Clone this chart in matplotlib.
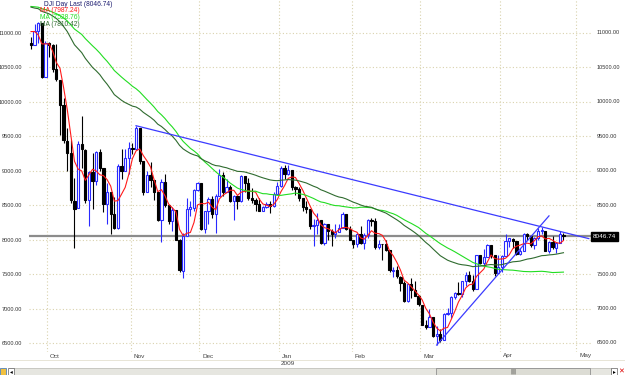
import matplotlib
matplotlib.use("Agg")
import matplotlib.pyplot as plt
from matplotlib.patches import Rectangle
from matplotlib.transforms import blended_transform_factory
import numpy as np
import pandas as pd

# ---------------- data ----------------
# closes before the visible window (2008-06-02 .. 2008-09-23), used only for the moving averages
hist_close = [12503.82, 12402.85, 12390.48, 12604.45, 12209.81, 12280.32, 12289.76, 12083.77,
              12141.58, 12307.35, 12269.08, 12160.30, 12029.06, 12063.09, 11842.69, 11842.36,
              11807.43, 11811.83, 11453.42, 11346.51, 11350.01,
              11382.26, 11215.51, 11288.53, 11231.96, 11384.21, 11147.44, 11229.02, 11100.54,
              11055.19, 10962.54, 11239.28, 11446.66, 11496.57, 11467.34, 11602.50, 11632.38,
              11349.28, 11370.69, 11131.08, 11397.56, 11583.69, 11378.02,
              11326.32, 11284.15, 11615.77, 11656.07, 11431.43, 11734.32, 11782.35, 11642.47,
              11532.96, 11615.93, 11659.90, 11479.39, 11348.55, 11417.43, 11430.21, 11628.06,
              11386.25, 11412.87, 11502.51, 11715.18, 11543.55,
              11516.92, 11532.88, 11188.23, 11220.96, 11510.74, 11230.73, 11268.92, 11433.71,
              11421.99, 10917.51, 11059.02, 10609.66, 11019.69, 11388.44, 11015.69, 10854.17]

start_date = "2008-09-24"
end_date = "2009-04-27"
holidays = ["2008-11-27", "2008-12-25", "2009-01-01", "2009-01-19", "2009-02-16", "2009-04-10"]

opens = [10854, 10825, 11022, 11143, 10365, 10850, 10825, 10483, 10322, 9956,
         9437, 9261, 8568, 8462, 9388, 9301, 8578, 8975, 8852, 9266,
         9034, 8519, 8691, 8375, 8175, 9065, 8991, 9181, 9325, 9320,
         9617, 9139, 8696, 8944, 8869, 8694, 8282, 8831, 8497, 8273,
         8424, 7995, 7552, 8046, 8443, 8465, 8726, 8829, 8149, 8419,
         8592, 8376, 8635, 8934, 8691, 8761, 8565, 8630, 8565, 8924,
         8824, 8605, 8579, 8520, 8419, 8468, 8515, 8484, 8668, 8772,
         9035, 8954, 9015, 8770, 8738, 8599, 8474, 8447, 8200, 8212,
         8279, 7949, 8228, 8123, 8078, 8116, 8175, 8375, 8149, 8000,
         7936, 8078, 7956, 8063, 8280, 8270, 7887, 7933, 7933, 7845,
         7546, 7555, 7461, 7366, 7115, 7349, 7271, 7181, 7056, 6764,
         6726, 6874, 6595, 6625, 6547, 6923, 6930, 7170, 7224, 7217,
         7396, 7486, 7401, 7279, 7776, 7660, 7750, 7924, 7775, 7522,
         7609, 7762, 7978, 8016, 7975, 7790, 7838, 8083, 8056, 7920,
         8029, 8126, 8128, 7842, 7970, 7886, 7957, 8070]

highs = [10935, 11135, 11160, 11143, 10890, 10870, 10840, 10840, 10322, 10050,
         9625, 9448, 8901, 9427, 9794, 9310, 9000, 9265, 9280, 9313,
         9034, 8820, 8691, 8624, 9099, 9315, 9320, 9411, 9410, 9654,
         9626, 9139, 9000, 9130, 8870, 8695, 8876, 8950, 8500, 8480,
         8430, 8010, 8100, 8600, 8560, 8740, 8830, 8829, 8420, 8620,
         8630, 8660, 9026, 8980, 8880, 8800, 8650, 8650, 8945, 8925,
         8890, 8755, 8600, 8600, 8490, 8540, 8560, 8690, 8830, 9065,
         9080, 9088, 9016, 8775, 8770, 8610, 8560, 8450, 8300, 8380,
         8290, 8240, 8230, 8150, 8230, 8220, 8400, 8375, 8200, 8000,
         8100, 8200, 8100, 8300, 8320, 8310, 8000, 7940, 8000, 7845,
         7600, 7620, 7470, 7400, 7360, 7440, 7400, 7200, 7056, 6840,
         6990, 6874, 6740, 6710, 6930, 7010, 7180, 7240, 7390, 7400,
         7530, 7550, 7490, 7780, 7780, 7870, 7935, 7924, 7776, 7770,
         7780, 8075, 8020, 8020, 7975, 7880, 8090, 8100, 8056, 8040,
         8165, 8180, 8128, 7980, 8060, 7960, 8120, 8100]

lows = [10765, 10825, 10860, 10350, 10365, 10654, 10430, 10300, 9525, 9400,
        9000, 8530, 7882, 8462, 9035, 8530, 8197, 8450, 8800, 8990,
        8400, 8225, 8085, 8150, 8150, 8880, 8990, 8960, 9250, 9320,
        9100, 8654, 8696, 8760, 8580, 8270, 7965, 8480, 8220, 8120,
        7990, 7530, 7449, 8046, 8340, 8410, 8700, 8141, 8090, 8230,
        8320, 8090, 8635, 8640, 8690, 8540, 8280, 8450, 8550, 8690,
        8570, 8525, 8420, 8410, 8419, 8460, 8390, 8470, 8660, 8760,
        8880, 8940, 8720, 8650, 8560, 8420, 8380, 8150, 7910, 8080,
        7940, 7920, 7990, 7910, 8030, 8110, 8175, 8140, 7990, 7880,
        7900, 7940, 7860, 8030, 8200, 7860, 7870, 7700, 7840, 7530,
        7460, 7440, 7250, 7100, 7100, 7150, 7180, 7030, 6760, 6700,
        6726, 6580, 6470, 6517, 6547, 6900, 6860, 7140, 7200, 7170,
        7330, 7380, 7250, 7279, 7640, 7620, 7750, 7740, 7473, 7520,
        7530, 7762, 7900, 7880, 7770, 7770, 7838, 7990, 7890, 7860,
        8000, 8080, 7840, 7800, 7860, 7800, 7957, 8000]

closes = [10825.17, 11022.06, 11143.13, 10365.45, 10850.66, 10831.07, 10482.85, 10325.38, 9955.50, 9447.11,
          9258.10, 8579.19, 8451.19, 9387.61, 9310.99, 8577.91, 8979.26, 8852.22, 9265.43, 9033.66,
          8519.21, 8691.25, 8378.95, 8175.77, 9065.12, 8990.96, 9180.69, 9325.01, 9319.83, 9625.28,
          9139.27, 8695.79, 8943.81, 8870.54, 8693.96, 8282.66, 8835.25, 8497.31, 8273.58, 8424.75,
          7997.28, 7552.29, 8046.42, 8443.39, 8479.47, 8726.61, 8829.04, 8149.09, 8419.09, 8591.69,
          8376.24, 8635.42, 8934.18, 8691.33, 8761.42, 8565.09, 8629.68, 8564.53, 8924.14, 8824.34,
          8604.99, 8579.11, 8519.69, 8419.49, 8468.48, 8515.55, 8483.93, 8668.39, 8776.39, 9034.69,
          8952.89, 9015.10, 8769.70, 8742.46, 8599.18, 8473.97, 8448.56, 8200.14, 8212.49, 8281.22,
          7949.09, 8228.10, 8122.80, 8077.56, 8116.03, 8174.73, 8375.45, 8149.01, 8000.86, 7936.83,
          8078.36, 7956.66, 8063.07, 8280.59, 8270.87, 7888.88, 7939.53, 7932.76, 7850.41, 7552.60,
          7555.63, 7465.95, 7365.67, 7114.78, 7350.94, 7270.89, 7182.08, 7062.93, 6763.29, 6726.02,
          6875.84, 6594.44, 6626.94, 6547.05, 6926.49, 6930.40, 7170.06, 7223.98, 7216.97, 7395.70,
          7486.58, 7400.80, 7278.38, 7775.86, 7660.21, 7749.81, 7924.56, 7776.18, 7522.02, 7608.92,
          7761.60, 7978.08, 8017.59, 7975.85, 7789.56, 7837.11, 8083.38, 8057.81, 7920.18, 8029.62,
          8125.43, 8131.33, 7841.73, 7969.56, 7886.57, 7957.06, 8076.29, 8046.74]

# moving averages: (kind, period, colour)
ma_specs = [("sma", 5, "#ff1a1a"), ("sma", 50, "#22dd22"), ("ema", 50, "#2f6b2f")]

# trend lines: (date, value) anchors
trend_down = [("2008-11-04", 9654), ("2009-05-06", 8015)]
trend_up = [("2009-03-06", 6470), ("2009-04-21", 8345)]

month_labels = ["Oct", "Nov", "Dec", "Jan", "Feb", "Mar", "Apr", "May"]
ytick_values = [6500, 7000, 7500, 8000, 8500, 9000, 9500, 10000, 10500, 11000]

# ---------------- derived ----------------
all_days = pd.bdate_range(start_date, "2009-06-30")
all_days = all_days[~all_days.isin(pd.to_datetime(holidays))]
day_index = {d: i for i, d in enumerate(all_days)}
dates = all_days[all_days <= pd.Timestamp(end_date)]
n = len(closes)
x = np.arange(n)

full_close = pd.Series(hist_close + closes)
mas = []
for kind, p, _ in ma_specs:
    if kind == "sma":
        s = full_close.rolling(p).mean()
    else:
        s = full_close.ewm(span=p, adjust=False).mean()
    mas.append(s.values[len(hist_close):])

def pos(datestr):
    return day_index[pd.Timestamp(datestr)]

FONT = "Liberation Sans"
TICK_FS = 4.1

# ---------------- figure ----------------
fig = plt.figure(figsize=(6.25, 3.75), dpi=100)
fig.patch.set_facecolor("white")
ax = fig.add_axes([29 / 625, 23 / 375, 562 / 625, 352 / 375])
ax.set_xlim(-0.55, 154.6)
ax.set_ylim(6369, 11479)
for s in ax.spines.values():
    s.set_visible(False)

grid_col = "#d9d2ad"
for v in ytick_values:
    ax.axhline(v, color=grid_col, lw=0.8, ls=(0, (1, 2)), zorder=0)

month_pos = []
for m_year, m in [(2008, 10), (2008, 11), (2008, 12), (2009, 1), (2009, 2), (2009, 3), (2009, 4), (2009, 5)]:
    first = all_days[(all_days.year == m_year) & (all_days.month == m)][0]
    month_pos.append(day_index[first] - day_index[dates[0]])
for p in month_pos:
    ax.axvline(p - 0.5, color=grid_col, lw=0.8, ls=(0, (1, 2)), zorder=0)

ax.set_yticks(ytick_values)
ax.set_yticklabels([f"{v:.2f}" for v in ytick_values], fontfamily=FONT)
ax.tick_params(axis="y", labelleft=True, labelright=False, left=False, right=False,
               labelsize=TICK_FS, labelcolor="#333333", pad=1.5)
ax.set_xticks([])

last = closes[-1]
ytr = blended_transform_factory(ax.transAxes, ax.transData)
for v in ytick_values:
    if abs(v - last) < 150:
        continue  # hidden behind the last-price box
    ax.text(1 + 6 / 562, v, f"{v:.2f}", transform=ytr, fontsize=TICK_FS, color="#333333",
            ha="left", va="center", fontfamily=FONT)

trans = blended_transform_factory(ax.transData, fig.transFigure)
for p, lab in zip(month_pos, month_labels):
    ax.text(p + 0.3, 1 - 356 / 375, lab, transform=trans, fontsize=4.6, color="#444444",
            ha="left", va="center", fontfamily=FONT)
ax.text(month_pos[3] - 0.2, 1 - 363.5 / 375, "2009", transform=trans, fontsize=4.6,
        color="#444444", ha="left", va="center", fontfamily=FONT)
fig.add_artist(plt.Line2D([0, 1], [1 - 360 / 375] * 2, color="#e4e0d0", lw=0.6))

# last price line
ax.axhline(last, color="#8c8c8c", lw=1.6, zorder=1)

# candles
up_col = "#2a2aff"
w = 0.62
for i in range(n):
    o, h, l, c = opens[i], highs[i], lows[i], closes[i]
    up = c >= o
    col = up_col if up else "black"
    ax.plot([i, i], [l, h], color=col, lw=0.8, zorder=2, solid_capstyle="butt")
    bottom = min(o, c)
    height = max(abs(c - o), 8)
    if up:
        ax.add_patch(Rectangle((i - w / 2, bottom), w, height, facecolor="white",
                               edgecolor=up_col, lw=0.8, zorder=3))
    else:
        ax.add_patch(Rectangle((i - w / 2, bottom), w, height, facecolor="black",
                               edgecolor="black", lw=0.8, zorder=3))

# moving averages
for ma, (_, _, col) in zip(mas, ma_specs):
    ax.plot(x, ma, color=col, lw=0.8, zorder=4)

# trend lines
off = day_index[dates[0]]
for pts in (trend_down, trend_up):
    xs = [pos(d) - off for d, _ in pts]
    ys = [v for _, v in pts]
    ax.plot(xs, ys, color="#3b3bff", lw=0.9, zorder=5)

# last price label
ax.text(1.004, last, f"{last:.2f}", transform=ytr,
        fontsize=4.6, color="white", ha="left", va="center", zorder=10, fontfamily=FONT,
        bbox=dict(boxstyle="square,pad=0.3", facecolor="black", edgecolor="black"))

# legend texts
leg = [(f"DJI Day Last ({last:.2f})", "#1c1c70", 44, 4.5),
       (f"MA ({mas[0][-1]:.2f})", ma_specs[0][2], 40, 11),
       (f"MA ({mas[1][-1]:.2f})", ma_specs[1][2], 40, 17.5),
       (f"MA ({mas[2][-1]:.2f})", ma_specs[2][2], 40, 24)]
for txt, col, px, py in leg:
    fig.text(px / 625, 1 - py / 375, txt, fontsize=4.8, color=col, ha="left", va="center",
             zorder=10, fontfamily=FONT)

# scroll bar decoration
sb_y = 1 - 375 / 375
sb_h = 7 / 375
fig.add_artist(Rectangle((9 / 625, sb_y), 602 / 625, sb_h, transform=fig.transFigure,
                         facecolor="#e6e6e0", edgecolor="#b8b8b0", lw=0.5))
fig.add_artist(Rectangle((436 / 625, sb_y), 154 / 625, sb_h, transform=fig.transFigure,
                         facecolor="#dcdcd4", edgecolor="#909090", lw=0.6))
fig.text(513 / 625, sb_y + sb_h / 2, "|||", fontsize=4, color="black", ha="center", va="center")
fig.add_artist(Rectangle((8 / 625, sb_y), 6 / 625, sb_h, transform=fig.transFigure,
                         facecolor="white", edgecolor="#606060", lw=0.5))
fig.add_artist(Rectangle((611 / 625, sb_y), 6 / 625, sb_h, transform=fig.transFigure,
                         facecolor="white", edgecolor="#606060", lw=0.5))
fig.text(11 / 625, sb_y + sb_h / 2, "◂", fontsize=4, color="black", ha="center", va="center")
fig.text(614 / 625, sb_y + sb_h / 2, "▸", fontsize=4, color="black", ha="center", va="center")
fig.text(621 / 625, sb_y + sb_h / 2, "✕", fontsize=5, color="#dd0000", ha="center", va="center")
fig.add_artist(Rectangle((0, sb_y), 6 / 625, sb_h, transform=fig.transFigure,
                         facecolor="#f0c040", edgecolor="#3070c0", lw=0.5))

fig.savefig("out.png", dpi=100)
